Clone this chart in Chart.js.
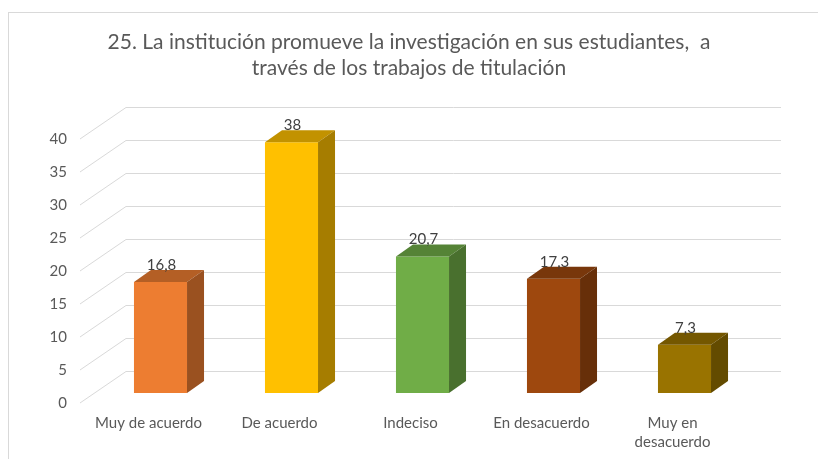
<!DOCTYPE html>
<html>
<head>
<meta charset="utf-8">
<script src="https://cdn.jsdelivr.net/npm/chart.js@4.4.1/dist/chart.umd.min.js"></script>
<style>
  html, body { margin: 0; padding: 0; background: #fff; }
  canvas { display: block; }
</style>
</head>
<body>
<canvas id="chart" width="818" height="459"></canvas>
<script>
// data
const categories = ["Muy de acuerdo", "De acuerdo", "Indeciso", "En desacuerdo", ["Muy en", "desacuerdo"]]
const values = [16.8, 38, 20.7, 17.3, 7.3]
const yTicks = [0, 5, 10, 15, 20, 25, 30, 35, 40]
const titleLines = ["25. La institución promueve la investigación en sus estudiantes,  a", "través de los trabajos de titulación"]

// styles
const barColors = ["#ED7D31", "#FFC000", "#70AD47", "#9E480E", "#997300"]
const gridColor = "#d9d9d9"
const textColor = "#595959"
const FONT = "Lato, 'Liberation Sans', sans-serif"

// 3D offsets relative to the bar front plane
const BACK = { dx: 31, dy: -22 }
const FRONT = { dx: -15, dy: 10 }
const DEPTH = { dx: 17, dy: -12 }

function shade(hex, f) {
  const n = parseInt(hex.slice(1), 16)
  const r = Math.round(((n >> 16) & 255) * f)
  const g = Math.round(((n >> 8) & 255) * f)
  const b = Math.round((n & 255) * f)
  return `rgb(${r},${g},${b})`
}

const bg = {
  id: "bg",
  beforeDraw(chart) {
    const ctx = chart.ctx
    ctx.save()
    ctx.fillStyle = "#fff"
    ctx.fillRect(0, 0, chart.width, chart.height)
    // chart border
    ctx.strokeStyle = gridColor
    ctx.lineWidth = 1
    ctx.strokeRect(8.5, 12.5, chart.width + 10, chart.height + 10)
    ctx.restore()
  },
  beforeDatasetsDraw(chart) {
    const ctx = chart.ctx
    const y = chart.scales.y
    const area = chart.chartArea
    ctx.save()
    ctx.strokeStyle = gridColor
    ctx.lineWidth = 1
    yTicks.forEach((v) => {
      const py = y.getPixelForValue(v)
      const bx = area.left + BACK.dx
      const by = Math.round(py + BACK.dy) + 0.5
      ctx.beginPath()
      ctx.moveTo(area.left + FRONT.dx, py + FRONT.dy)
      ctx.lineTo(bx, by)
      ctx.lineTo(area.right + BACK.dx, by)
      ctx.stroke()
    })
    ctx.restore()
  },
  afterDatasetsDraw(chart) {
    const ctx = chart.ctx
    const meta = chart.getDatasetMeta(0)
    ctx.save()
    meta.data.forEach((bar, i) => {
      const half = bar.width / 2
      const l = bar.x - half
      const r = bar.x + half
      const t = bar.y
      const b = bar.base
      const col = barColors[i]
      // top face
      ctx.fillStyle = shade(col, 0.76)
      ctx.beginPath()
      ctx.moveTo(l, t)
      ctx.lineTo(r, t)
      ctx.lineTo(r + DEPTH.dx, t + DEPTH.dy)
      ctx.lineTo(l + DEPTH.dx, t + DEPTH.dy)
      ctx.closePath()
      ctx.fill()
      // side face
      ctx.fillStyle = shade(col, 0.65)
      ctx.beginPath()
      ctx.moveTo(r, t)
      ctx.lineTo(r + DEPTH.dx, t + DEPTH.dy)
      ctx.lineTo(r + DEPTH.dx, b + DEPTH.dy)
      ctx.lineTo(r, b)
      ctx.closePath()
      ctx.fill()
      // data label
      ctx.fillStyle = "#404040"
      ctx.font = `15px ${FONT}`
      ctx.textAlign = "center"
      ctx.textBaseline = "middle"
      ctx.fillText(String(values[i]).replace(".", ","), bar.x + 1, t - 17)
    })
    ctx.restore()
  },
}

new Chart(document.getElementById("chart"), {
  type: "bar",
  data: {
    labels: categories,
    datasets: [
      {
        data: values,
        backgroundColor: barColors,
        borderWidth: 0,
        barPercentage: 0.405,
        categoryPercentage: 1,
      },
    ],
  },
  options: {
    responsive: false,
    animation: false,
    layout: { padding: 0 },
    plugins: {
      legend: { display: false },
      tooltip: { enabled: false },
      title: {
        display: true,
        text: titleLines,
        color: textColor,
        font: { family: FONT, size: 21, weight: "normal", lineHeight: 1.238 },
        padding: { top: 29, bottom: 48 },
      },
    },
    scales: {
      x: {
        grid: { display: false, drawTicks: false },
        border: { display: false },
        ticks: {
          color: textColor,
          font: { family: FONT, size: 15, lineHeight: 1.3 },
          padding: 20,
          labelOffset: -12,
          maxRotation: 0,
          autoSkip: false,
        },
        afterFit(scale) {
          scale.height = 66
        },
      },
      y: {
        min: 0,
        max: 40,
        grid: { display: false, drawTicks: false },
        border: { display: false },
        ticks: {
          stepSize: 5,
          color: textColor,
          font: { family: FONT, size: 15 },
          padding: 28,
          labelOffset: 10,
        },
        afterFit(scale) {
          scale.width = 95
        },
      },
      // empty right-hand axis that keeps room for the back wall
      yRight: {
        position: "right",
        display: true,
        min: 0,
        max: 40,
        grid: { display: false, drawTicks: false },
        border: { display: false },
        ticks: { display: false },
        afterFit(scale) {
          scale.width = 68
        },
      },
    },
  },
  plugins: [bg],
})
</script>
</body>
</html>
